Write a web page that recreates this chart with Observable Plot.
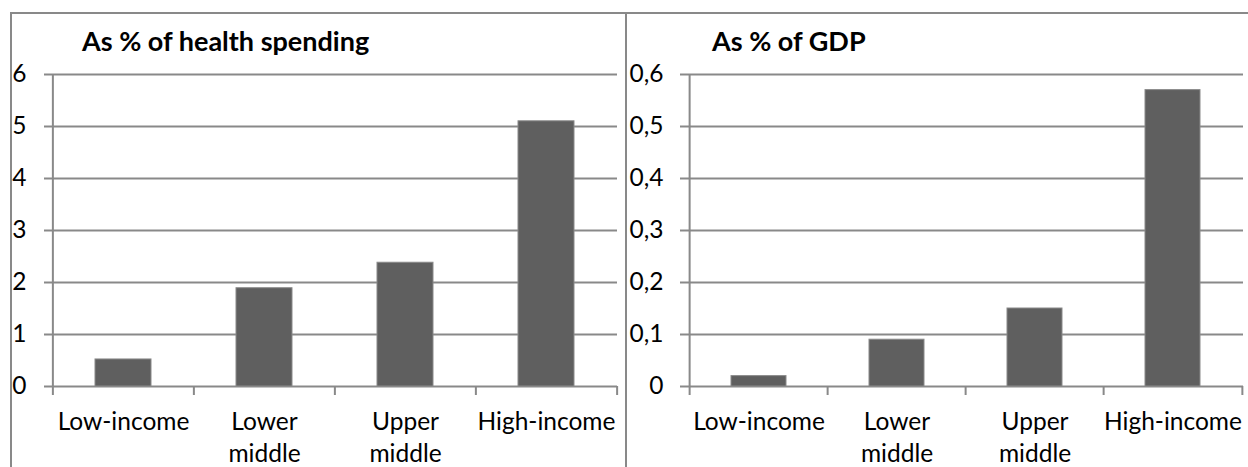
<!DOCTYPE html>
<html><head><meta charset="utf-8">
<script src="https://cdn.jsdelivr.net/npm/d3@7"></script>
<script src="https://cdn.jsdelivr.net/npm/@observablehq/plot@0.6"></script>
<style>
body{margin:0;background:#fff;}
#wrap{position:relative;width:1248px;height:467px;overflow:hidden;font-family:Lato,"Open Sans",sans-serif;}
.panel{position:absolute;top:0;}
.title{position:absolute;font-weight:bold;font-size:27px;line-height:1;white-space:nowrap;color:#000;}
.bline{position:absolute;background:#898989;}
</style></head>
<body><div id="wrap"></div>
<script>
const categories = ["Low-income", "Lower middle", "Upper middle", "High-income"];
const categoryLabels = ["Low-income", "Lower\nmiddle", "Upper\nmiddle", "High-income"];
const healthValues = [0.52, 1.89, 2.38, 5.10];
const gdpValues = [0.02, 0.09, 0.15, 0.57];
const healthTicks = [0, 1, 2, 3, 4, 5, 6];
const healthTickLabels = ["0", "1", "2", "3", "4", "5", "6"];
const gdpTicks = [0, 0.1, 0.2, 0.3, 0.4, 0.5, 0.6];
const gdpTickLabels = ["0", "0,1", "0,2", "0,3", "0,4", "0,5", "0,6"];
const titles = ["As % of health spending", "As % of GDP"];

const wrap = document.getElementById("wrap");
const GRID = "#898989";
const BAR = "#5f5f5f";
const FS = 24.5;

function panel({values, ticks, tickLabels, left, width, marginLeft, marginRight, tickPadding, title, titleLeft}) {
  const height = 467, marginTop = 74, marginBottom = 81;
  const step = (width - marginLeft - marginRight) / categories.length;
  const data = categories.map((c, i) => ({category: c, value: values[i], label: categoryLabels[i]}));
  const ymax = ticks[ticks.length - 1];
  const chart = Plot.plot({
    width, height, marginLeft, marginRight, marginTop, marginBottom,
    style: {fontFamily: "Lato, 'Open Sans', sans-serif", fontSize: FS + "px", color: "#000", background: "transparent", overflow: "visible"},
    x: {domain: categories, paddingInner: 0.6, paddingOuter: 0.3, align: 0.5, axis: null},
    y: {domain: [0, ymax], axis: null},
    marks: [
      Plot.ruleY(ticks, {y: d => d, stroke: GRID, strokeWidth: 2}),
      Plot.axisY({ticks, label: null, tickSize: 8, tickPadding, tickFormat: d => tickLabels[ticks.indexOf(d)], stroke: GRID, strokeWidth: 2, fontSize: FS, fill: "#000"}),
      Plot.barY(data, {x: "category", y: "value", fill: BAR, stroke: "#8a8a8a", strokeWidth: 1}),
      Plot.ruleX([categories[0]], {x: d => d, dx: -step / 2, y1: 0, y2: ymax, stroke: GRID, strokeWidth: 2}),
      Plot.axisX({label: null, tickSize: 9, dx: -step / 2, tickFormat: () => "", stroke: GRID, strokeWidth: 2}),
      Plot.axisX({label: null, ticks: [categories[categories.length - 1]], tickSize: 9, dx: step / 2, tickFormat: () => "", stroke: GRID, strokeWidth: 2}),
      Plot.text(data, {x: "category", text: "label", frameAnchor: "bottom", lineAnchor: "top", dy: 21, lineHeight: 1.3, fontSize: FS, fill: "#000"})
    ]
  });
  const div = document.createElement("div");
  div.className = "panel";
  div.style.left = left + "px";
  div.appendChild(chart);
  wrap.appendChild(div);
  const t = document.createElement("div");
  t.className = "title";
  t.textContent = title;
  t.style.left = titleLeft + "px";
  t.style.top = "27px";
  wrap.appendChild(t);
}

panel({values: healthValues, ticks: healthTicks, tickLabels: healthTickLabels, left: 0, width: 626, marginLeft: 52, marginRight: 9, tickPadding: 18, title: titles[0], titleLeft: 82});
panel({values: gdpValues, ticks: gdpTicks, tickLabels: gdpTickLabels, left: 626, width: 622, marginLeft: 62, marginRight: 5, tickPadding: 17, title: titles[1], titleLeft: 712});

// chart area borders
[[10, 12, 1238, 2], [10, 12, 2, 455], [625, 12, 2, 455]].forEach(([x, y, w, h]) => {
  const b = document.createElement("div");
  b.className = "bline";
  Object.assign(b.style, {left: x + "px", top: y + "px", width: w + "px", height: h + "px"});
  wrap.appendChild(b);
});
</script>
</body></html>
